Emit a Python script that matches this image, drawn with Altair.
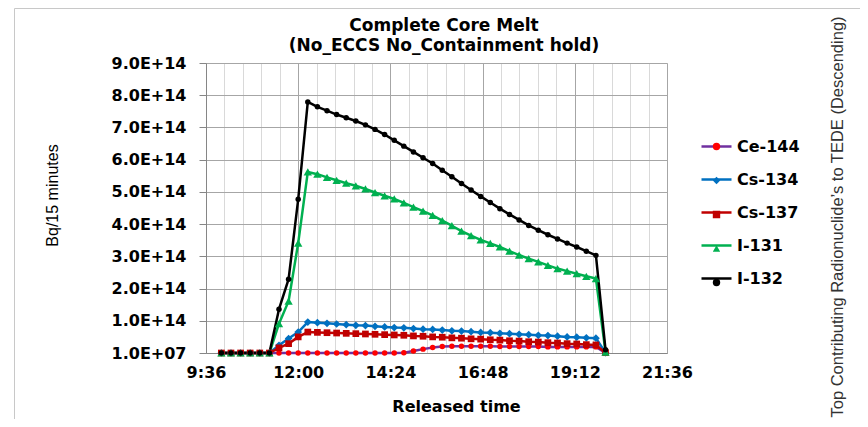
import altair as alt
import pandas as pd

# ---------------- data (Bq per 15 minutes in units of 1E+14) ----------------
times = ["10:00", "10:15", "10:30", "10:45", "11:00", "11:15", "11:30", "11:45", "12:00",
         "12:15", "12:30", "12:45", "13:00", "13:15", "13:30", "13:45", "14:00", "14:15",
         "14:30", "14:45", "15:00", "15:15", "15:30", "15:45", "16:00", "16:15", "16:30",
         "16:45", "17:00", "17:15", "17:30", "17:45", "18:00", "18:15", "18:30", "18:45",
         "19:00", "19:15", "19:30", "19:45", "20:00"]

series = ["Ce-144", "Cs-134", "Cs-137", "I-131", "I-132"]
UNIT = 1e14          # values below are in E+14
B = 1e-7             # baseline 1.0E+07 expressed in E+14

ce144 = [B, B, B, B, B, B, B, B, B,
         B, B, B, B, B, B, B, B, B,
         B, 0.01, 0.06, 0.12, 0.17, 0.20, 0.21, 0.21, 0.21,
         0.21, 0.21, 0.20, 0.20, 0.20, 0.20, 0.20, 0.19, 0.19,
         0.19, 0.19, 0.19, 0.19, 0.005]
cs134 = [B, B, B, B, B, B, 0.24, 0.45, 0.65,
         0.96, 0.94, 0.92, 0.90, 0.88, 0.86, 0.85, 0.83, 0.81,
         0.79, 0.78, 0.76, 0.74, 0.73, 0.71, 0.69, 0.68, 0.66,
         0.64, 0.63, 0.61, 0.60, 0.58, 0.57, 0.55, 0.54, 0.52,
         0.50, 0.49, 0.47, 0.46, 0.01]
cs137 = [B, B, B, B, B, B, 0.16, 0.29, 0.50,
         0.65, 0.64, 0.63, 0.62, 0.61, 0.60, 0.59, 0.58, 0.57,
         0.56, 0.55, 0.53, 0.52, 0.50, 0.49, 0.47, 0.46, 0.44,
         0.43, 0.41, 0.40, 0.38, 0.37, 0.35, 0.34, 0.32, 0.31,
         0.29, 0.28, 0.26, 0.25, 0.01]
i131 = [B, B, B, B, B, B, 0.91, 1.61, 3.41,
        5.62, 5.55, 5.45, 5.36, 5.27, 5.19, 5.09, 4.98, 4.88,
        4.78, 4.66, 4.53, 4.40, 4.27, 4.11, 3.95, 3.78, 3.64,
        3.51, 3.40, 3.29, 3.16, 3.04, 2.93, 2.83, 2.72, 2.62,
        2.54, 2.46, 2.38, 2.31, 0.03]
i132 = [B, B, B, B, B, B, 1.36, 2.29, 4.77,
        7.79, 7.64, 7.52, 7.40, 7.30, 7.20, 7.08, 6.94, 6.78,
        6.60, 6.42, 6.24, 6.06, 5.88, 5.67, 5.47, 5.26, 5.06,
        4.86, 4.67, 4.48, 4.30, 4.13, 3.96, 3.81, 3.67, 3.54,
        3.41, 3.29, 3.16, 3.03, 0.10]

line_colors = ["#7030A0", "#0070C0", "#C00000", "#00B050", "#000000"]
marker_colors = ["#FF0000", "#0070C0", "#C00000", "#00B050", "#000000"]
marker_shapes = ["circle", "diamond", "square", "triangle-up", "circle"]

# axis settings
X_MIN, X_MAX = 576, 1296          # 9:36 .. 21:36 in minutes of day
X_MINOR = 28.8                    # minor grid step (minutes)
Y_MIN, Y_STEP = 1e7, 1e14

title_lines = ["Complete Core Melt", "(No_ECCS No_Containment hold)"]
right_text = "Top Contributing Radionuclide\u2019s to TEDE (Descending)"

# ---------------- build table ----------------
rows = []
for name, vals in zip(series, [ce144, cs134, cs137, i131, i132]):
    for t, v in zip(times, vals):
        h, m = t.split(":")
        rows.append({"series": name, "marker": name,
                     "minutes": int(h) * 60 + int(m), "value": v * UNIT})
df = pd.DataFrame(rows)

x_ticks = [round(X_MIN + k * X_MINOR, 6) for k in range(int(round((X_MAX - X_MIN) / X_MINOR)) + 1)]
y_ticks = [Y_MIN + k * Y_STEP for k in range(10)]

BOLD = "DejaVu Sans"
major_test = "round(datum.value) % 144 == 0"

x_enc = alt.X(
    "minutes:Q",
    scale=alt.Scale(domain=[X_MIN, X_MAX], nice=False, zero=False),
    axis=alt.Axis(
        values=x_ticks,
        labelExpr=f"{major_test} ? floor(round(datum.value)/60) + ':' + pad(round(datum.value) % 60, 2, '0', 'left') : ''",
        ticks=False, tickSize=0, labelPadding=11, labelFlush=False, labelOverlap=False,
        labelFont=BOLD, labelFontWeight="bold", labelFontSize=16, labelColor="black",
        gridColor={"condition": {"test": major_test, "value": "#a6a6a6"}, "value": "#d9d9d9"},
        gridWidth=1, domainColor="#868686", domainWidth=1,
        title="Released time", titleFont=BOLD, titleFontWeight="bold", titleFontSize=16,
        titleColor="black", titleX=250, titleY=53, titleAlign="center", titleBaseline="middle",
    ),
)
y_enc = alt.Y(
    "value:Q",
    scale=alt.Scale(domain=[Y_MIN, Y_MIN + 9 * Y_STEP], nice=False, zero=False),
    axis=alt.Axis(
        values=y_ticks,
        labelExpr="datum.value < 1e10 ? replace(format(datum.value, '.1e'), 'e+', 'E+0') : replace(format(datum.value, '.1e'), 'e', 'E')",
        tickSize=7, tickColor="#868686", labelPadding=13,
        labelFont=BOLD, labelFontWeight="bold", labelFontSize=16, labelColor="black",
        gridColor="#a6a6a6", gridWidth=1, domainColor="#868686", domainWidth=1,
        title="Bq/15 minutes", titleFont="Liberation Sans", titleFontWeight="normal",
        titleFontSize=16, titleColor="black", titleX=-154, titleY=132, titleAngle=270,
        titleAlign="center", titleBaseline="middle",
    ),
)

LEG_X, LEG_Y, LEG_ROW = 494, 67, 33

lines = alt.Chart(df).mark_line(strokeWidth=2.5, strokeJoin="round").encode(
    x=x_enc, y=y_enc,
    stroke=alt.Stroke(
        "series:N",
        scale=alt.Scale(domain=series, range=line_colors),
        legend=alt.Legend(
            title=None, orient="none", legendX=LEG_X, legendY=LEG_Y, padding=0,
            symbolType="stroke", symbolSize=900, symbolStrokeWidth=2.5, rowPadding=0,
            clipHeight=LEG_ROW,
            labelFont=BOLD, labelFontWeight="bold", labelFontSize=16, labelColor="black",
            labelOffset=4,
        ),
    ),
)

# marker legend drawn over the line legend: same geometry, symbols only (no label text)
marker_legend = alt.Legend(
    title=None, orient="none", legendX=LEG_X, legendY=LEG_Y, padding=0,
    symbolSize=55, symbolStrokeWidth=0, rowPadding=0, clipHeight=LEG_ROW,
    labelFontSize=33, labelExpr="''", labelOffset=4,
)

points = alt.Chart(df).transform_calculate(
    msize="datum.marker == 'I-131' ? 70 : (datum.marker == 'Cs-134' ? 60 : (datum.marker == 'Cs-137' ? 45 : 30))"
).mark_point(filled=True, opacity=1).encode(
    x=x_enc, y=y_enc,
    fill=alt.Fill("marker:N", scale=alt.Scale(range=marker_colors), legend=marker_legend),
    shape=alt.Shape("marker:N", scale=alt.Scale(range=marker_shapes), legend=marker_legend),
    size=alt.Size("msize:Q", scale=None, legend=None),
)

title_text = alt.Chart(alt.Data(values=[{"t": 1}])).mark_text(
    text=title_lines, align="center", baseline="top", font=BOLD, fontWeight="bold",
    fontSize=17, lineHeight=19.5, color="black",
).encode(x=alt.value(238), y=alt.value(-45))

side_text = alt.Chart(alt.Data(values=[{"t": right_text}])).mark_text(
    angle=270, align="center", baseline="middle", font="Liberation Sans",
    fontSize=16.5, color="#333333",
).encode(text="t:N", x=alt.value(632), y=alt.value(154))

border = alt.Chart(alt.Data(values=[{"b": 1}])).mark_rect(
    fill="transparent", stroke="#c8c8c8", strokeWidth=1,
).encode(x=alt.value(-191.5), x2=alt.value(720), y=alt.value(-54.5), y2=alt.value(420))

chart = alt.layer(border, lines, points, title_text, side_text).properties(
    width=461, height=290,
    autosize=alt.AutoSizeParams(type="none"),
    padding={"left": 198, "top": 55, "right": 193, "bottom": 66},
).configure_view(stroke="transparent").configure(background="white")

chart.save("out.html", embed_options={"renderer": "svg", "actions": False})
